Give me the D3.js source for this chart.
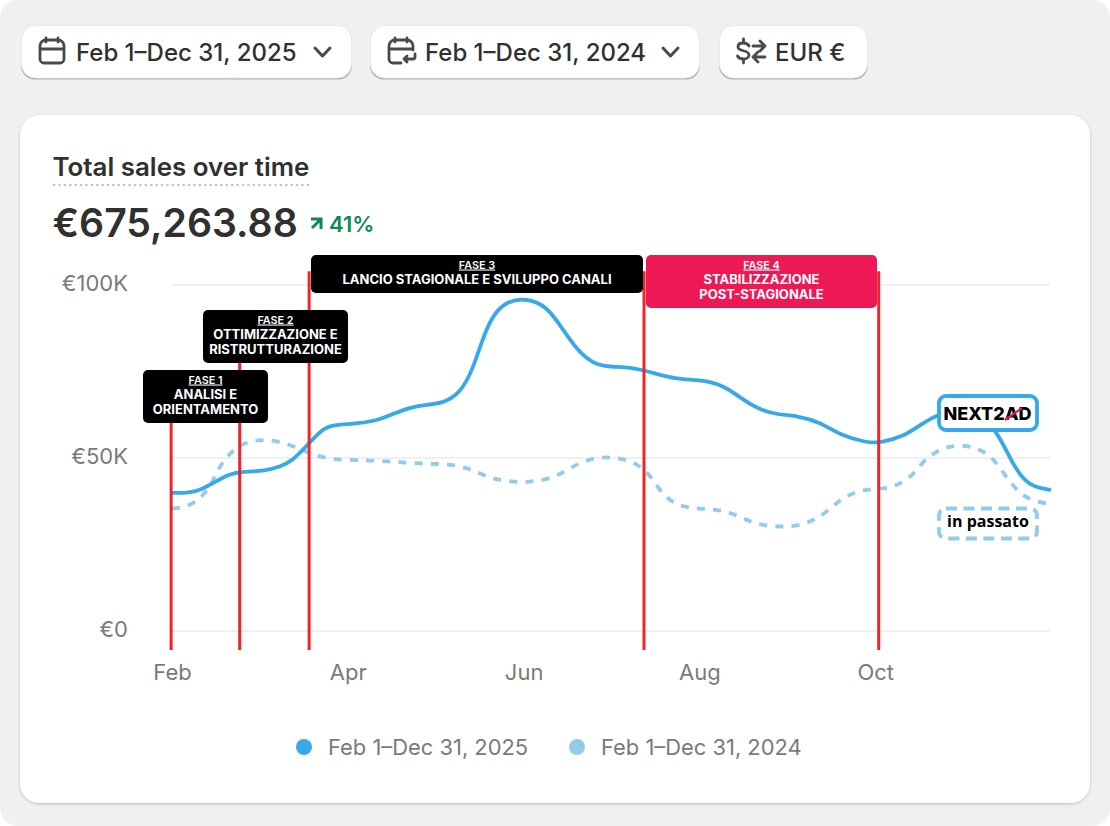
<!DOCTYPE html>
<html><head><meta charset="utf-8">
<script src="https://cdn.jsdelivr.net/npm/d3@7"></script>
<style>
html,body{margin:0;padding:0;background:#fff;}
svg{display:block;font-family:Inter,sans-serif;}
</style></head><body><div id="chart"></div>
<script>
const monthLabels = ["Feb","Apr","Jun","Aug","Oct"];
const monthTicks = [0,2,4,6,8];
const yTicks = [0,50,100];
const yLabels = ["€0","€50K","€100K"];
const seriesNames = ["Feb 1–Dec 31, 2025","Feb 1–Dec 31, 2024"];
const currentPos = [0,.20,.35,.51,.66,.77,1.04,1.23,1.38,1.54,1.68,1.76,1.91,2.10,2.37,2.56,2.79,3.08,3.28,3.42,3.54,3.65,3.81,4.04,4.27,4.45,4.61,4.79,4.98,5.21,5.44,5.70,6.09,6.31,6.61,6.84,7.14,7.37,7.60,7.91,8.05,8.32,8.54,8.70,8.96,9.19,9.39,9.53,9.68,9.84,10];
const currentVal = [39.9,39.9,41.0,43.4,45.4,46.0,46.2,47.4,49.4,53.8,57.5,59.0,59.7,59.9,61.0,63.3,65.3,65.6,68.8,75.4,85.0,91.3,95.4,96.2,93.8,87.0,81.2,77.2,76.3,76.3,74.9,72.8,72.5,70.5,64.7,62.7,62.1,60.4,56.6,54.4,54.4,56.1,60.1,62.4,64.5,62.7,57.5,50.0,43.6,41.3,40.8];
const previousPos = [0,.20,.34,.46,.53,.64,.77,.94,1.14,1.32,1.49,1.65,1.82,2.0,2.20,2.38,2.56,2.73,2.91,3.09,3.28,3.45,3.62,3.79,3.98,4.15,4.33,4.49,4.65,4.84,5.01,5.19,5.35,5.46,5.57,5.70,5.87,6.06,6.23,6.43,6.58,6.76,6.94,7.12,7.29,7.45,7.58,7.74,7.91,8.09,8.26,8.42,8.53,8.66,8.83,9.02,9.19,9.34,9.45,9.56,9.68,9.84,10];
const previousVal = [35.3,36.1,38.7,42.8,47.1,50.9,53.8,55.2,55.2,54.0,52.3,50.6,49.7,49.4,49.4,49.1,48.8,48.6,48.3,48.3,47.7,46.2,44.2,43.4,42.9,43.4,44.2,46.5,48.8,50.2,50.2,49.4,47.4,44.2,39.9,37.0,35.5,35.3,35.0,33.5,31.5,30.4,30.1,30.4,31.8,34.4,37.6,39.9,41.0,41.0,42.2,44.8,48.6,51.4,53.4,53.7,52.6,50.0,46.0,42.2,39.0,37.3,36.7];
const phasePos = [-0.01,.77,1.56,5.37,8.04];
const phaseTopVal = [62,85,104,104,104];
const phaseTitles = ["FASE 1","FASE 2","FASE 3","FASE 4"];
const phaseLines = [["ANALISI E","ORIENTAMENTO"],["OTTIMIZZAZIONE E","RISTRUTTURAZIONE"],["LANCIO STAGIONALE E SVILUPPO CANALI"],["STABILIZZAZIONE","POST-STAGIONALE"]];
const phaseBoxes = [[143,370,125,53],[203,310,145,53],[311,255,332,38],[646,255,231,53]];
const phaseFill = ["#000","#000","#000","#ee1854"];

const BLUE="#36a9e8", PALE="#93cbea", RED="#f02428";
const svg=d3.select("#chart").append("svg").attr("width",1110).attr("height",826);
const defs=svg.append("defs");
const f=defs.append("filter").attr("id","cardShadow").attr("x","-5%").attr("y","-5%").attr("width","110%").attr("height","110%");
f.append("feDropShadow").attr("dx",0).attr("dy",1).attr("stdDeviation",1.6).attr("flood-color","#000").attr("flood-opacity",.22);
svg.append("rect").attr("width",1110).attr("height",826).attr("rx",18).attr("fill","#f0f0f0");

/* toolbar */
function button(x,w,label,labelX){
  const g=svg.append("g");
  g.append("rect").attr("x",x).attr("y",28).attr("width",w).attr("height",51.5).attr("rx",14).attr("fill","#adadad");
  g.append("rect").attr("x",x+.5).attr("y",25.5).attr("width",w-1).attr("height",52.5).attr("rx",14).attr("fill","#fff").attr("stroke","#e8e8e8").attr("stroke-width",1);
  g.append("text").attr("x",labelX).attr("y",60.5).attr("font-size",24).attr("font-weight",500).attr("fill","#303030").text(label);
  return g;
}
const b1=button(21,331,seriesNames[0],76);
const b2=button(370,330,seriesNames[1],425);
const b3=button(719,149,"EUR €",775);
const ic={fill:"none",stroke:"#4a4a4a","stroke-width":2.8,"stroke-linecap":"round","stroke-linejoin":"round"};
function style(s){Object.entries(ic).forEach(([k,v])=>s.attr(k,v));return s;}
style(b1.append("path")).attr("d","M46 38v4M58 38v4M40 46a6 6 0 0 1 6-6h12a6 6 0 0 1 6 6v13a4 4 0 0 1-4 4H44a4 4 0 0 1-4-4ZM40 49h24");
style(b1.append("path")).attr("d","M315 48l7.500 8 7.500-8").attr("stroke-width",3);
style(b2.append("path")).attr("d","M395 38v4M407 38v4M401 63h-8a4 4 0 0 1-4-4V46a6 6 0 0 1 6-6h12a6 6 0 0 1 6 6v4M389 49h24");
style(b2.append("path")).attr("d","M415 54v3a2 2 0 0 1-2 2h-9M407 56l-3 3 3 3");
style(b2.append("path")).attr("d","M663 48l7.500 8 7.500-8").attr("stroke-width",3);
style(b3.append("path")).attr("d","M749 46c-1-2-3-3-6-3-3 0-5 1.500-5 4 0 5 11 2.500 11 8 0 2.500-2.500 4-5.500 4-3 0-5-1-6-3M743.500 39v4M743.500 59v4");
style(b3.append("path")).attr("d","M753 46h12M760 41l5 5-5 5M765 57h-12M758 52l-5 5 5 5");

/* card */
svg.append("rect").attr("x",20).attr("y",115).attr("width",1070).attr("height",688).attr("rx",20).attr("fill","#fff").attr("filter","url(#cardShadow)");
svg.append("text").attr("x",52.5).attr("y",176).attr("font-size",25.900).attr("font-weight",600).attr("fill","#303030").text("Total sales over time");
svg.append("line").attr("x1",54).attr("x2",310).attr("y1",185).attr("y2",185).attr("stroke","#c4c4c4").attr("stroke-width",2.6).attr("stroke-linecap","round").attr("stroke-dasharray","0.1 5.3");
svg.append("text").attr("x",52.5).attr("y",237).attr("font-size",39.200).attr("font-weight",600).attr("fill","#303030").text("€675,263.88");
svg.append("path").attr("d","M311 219h10v10M321 219l-9 9").attr("fill","none").attr("stroke","#0c8a50").attr("stroke-width",3);
svg.append("text").attr("x",329).attr("y",232).attr("font-size",22).attr("font-weight",600).attr("fill","#0c8a50").text("41%");

/* scales */
const x=d3.scaleLinear().domain([0,10]).range([172,1051]);
const y=d3.scaleLinear().domain([0,100]).range([631,285]);

const yAxis=svg.append("g").attr("transform","translate(172,-1)").call(d3.axisLeft(y).tickValues(yTicks).tickSize(0).tickPadding(44).tickFormat((d,i)=>yLabels[i]));
yAxis.select(".domain").remove();
yAxis.selectAll("text").attr("font-size",22).attr("font-family","Inter,sans-serif").attr("fill","#7a7a7a").attr("dy","0.28em");
svg.append("g").selectAll("line").data(yTicks).join("line").attr("x1",172).attr("x2",1050).attr("y1",d=>y(d)).attr("y2",d=>y(d)).attr("stroke","#ebebeb").attr("stroke-width",1.6);

const xAxis=svg.append("g").attr("transform","translate(0,664)").call(d3.axisBottom(x).tickValues(monthTicks).tickSize(0).tickPadding(0).tickFormat((d,i)=>monthLabels[i]));
xAxis.select(".domain").remove();
xAxis.selectAll("text").attr("font-size",22).attr("font-family","Inter,sans-serif").attr("fill","#7a7a7a").attr("dy","0.71em").attr("y",0);

/* series */
const line=d3.line().x(d=>x(d[0])).y(d=>y(d[1])).curve(d3.curveBasis);
const prev=d3.zip(previousPos,previousVal), cur=d3.zip(currentPos,currentVal);
svg.append("path").datum(prev).attr("d",line).attr("fill","none").attr("stroke",PALE).attr("stroke-width",3.8).attr("stroke-dasharray","8 8.2");
svg.append("path").datum(cur).attr("d",line).attr("fill","none").attr("stroke",BLUE).attr("stroke-width",3.8).attr("stroke-linejoin","round");

/* phase markers */
svg.append("g").selectAll("line").data(phasePos).join("line")
  .attr("x1",d=>x(d)).attr("x2",d=>x(d)).attr("y1",(d,i)=>y(phaseTopVal[i])).attr("y2",650)
  .attr("stroke",RED).attr("stroke-width",3);

phaseBoxes.forEach((b,i)=>{
  const g=svg.append("g");
  g.append("rect").attr("x",b[0]).attr("y",b[1]).attr("width",b[2]).attr("height",b[3]).attr("rx",5).attr("fill",phaseFill[i]);
  const cx=b[0]+b[2]/2;
  g.append("text").attr("x",cx).attr("y",b[1]+13.500).attr("text-anchor","middle").attr("font-size",10.800).attr("font-weight",600).attr("fill","#fff").attr("text-decoration","underline").text(phaseTitles[i]);
  phaseLines[i].forEach((t,j)=>g.append("text").attr("x",cx).attr("y",b[1]+28.700+j*15).attr("text-anchor","middle").attr("font-size",13).attr("font-weight",700).attr("fill","#fff").text(t));
});

/* callouts */
svg.append("rect").attr("x",939).attr("y",396).attr("width",98).attr("height",34).attr("rx",7).attr("fill","#fff").attr("stroke",BLUE).attr("stroke-width",3.8);
svg.append("text").attr("x",943.500).attr("y",419.500).attr("font-size",18).attr("font-weight",800).attr("fill","#000").attr("textLength",88).attr("lengthAdjust","spacing").text("NEXT2AD");
svg.append("path").attr("d","M1005 420L1022 408").attr("stroke","#e8184f").attr("stroke-width",2.2).attr("fill","none");
svg.append("rect").attr("x",939).attr("y",508.500).attr("width",98).attr("height",30).attr("rx",7).attr("fill","#fff").attr("stroke",PALE).attr("stroke-width",3.8).attr("stroke-dasharray","11 6.500");
svg.append("text").attr("x",988).attr("y",527).attr("text-anchor","middle").attr("font-family","'Open Sans',sans-serif").attr("font-size",16).attr("font-weight",700).attr("fill","#000").text("in passato");

/* legend */
const legendX=[304,577], legendC=[BLUE,PALE];
seriesNames.forEach((n,i)=>{
  svg.append("circle").attr("cx",legendX[i]).attr("cy",747).attr("r",8).attr("fill",legendC[i]);
  svg.append("text").attr("x",legendX[i]+24).attr("y",755).attr("font-size",21.900).attr("fill","#7a7a7a").text(n);
});
</script></body></html>
